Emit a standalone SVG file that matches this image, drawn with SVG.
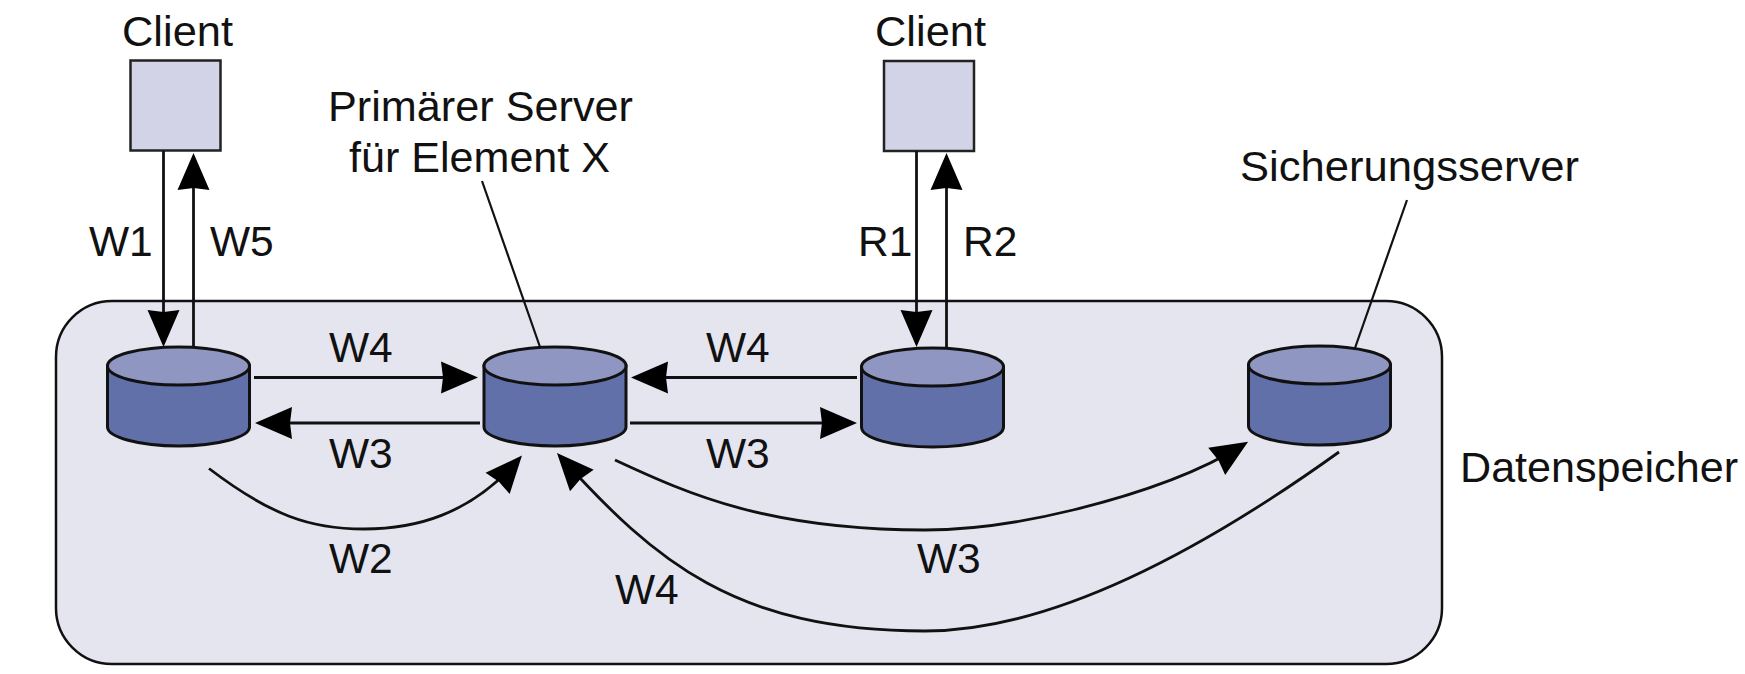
<svg xmlns="http://www.w3.org/2000/svg" width="1745" height="674" viewBox="0 0 1745 674">
<style>
text{font-family:"Liberation Sans",Arial,sans-serif;font-size:42.5px;fill:#111}
.client{fill:#d2d3e6;stroke:#222;stroke-width:2.5}
.top{fill:#8f96c2;stroke:#111;stroke-width:3}
.side{fill:#6170a9;stroke:#111;stroke-width:3}
.c{fill:none;stroke:#111;stroke-width:2.8}
.a{marker-end:url(#head)}
.thin{fill:none;stroke:#111;stroke-width:2.2}
</style>
<defs>
<marker id="head" markerUnits="userSpaceOnUse" markerWidth="42" markerHeight="36" refX="31" refY="16" orient="auto" overflow="visible">
<path d="M0,0 L37,16 L0,32 L2,16 Z" fill="#000"/>
</marker>
</defs>
<rect width="1745" height="674" fill="#fff"/>
<g id="datenspeicher">
<rect x="56" y="301" width="1386" height="363" rx="56" ry="56" fill="#e5e5f0" stroke="#111" stroke-width="2.5"/>
<text x="1460" y="482" textLength="278" lengthAdjust="spacingAndGlyphs">Datenspeicher</text>
</g>
<g id="client-left"><rect class="client" x="130.500" y="60.500" width="90" height="90"/><text x="122" y="46" textLength="111" lengthAdjust="spacingAndGlyphs">Client</text></g>
<g id="client-right"><rect class="client" x="884" y="61" width="90" height="90"/><text x="875" y="46" textLength="111" lengthAdjust="spacingAndGlyphs">Client</text></g>
<g id="store-1">
<path class="side" d="M107.500,366 V427 C107.500,437 139,446 178.500,446 C218,446 249.500,437 249.500,427 V366 Z"/>
<ellipse class="top" cx="178.500" cy="366" rx="71" ry="19"/>
</g>
<g id="store-primary">
<path class="side" d="M484,366 V427 C484,437 515,446 555,446 C595,446 626,437 626,427 V366 Z"/>
<ellipse class="top" cx="555" cy="366" rx="71" ry="19"/>
</g>
<g id="store-3">
<path class="side" d="M861.500,367 V427 C861.500,438 893,447 932.500,447 C972,447 1003.500,438 1003.500,427 V367 Z"/>
<ellipse class="top" cx="932.500" cy="367" rx="71" ry="19"/>
</g>
<g id="store-backup">
<path class="side" d="M1248.500,365 V426 C1248.500,436 1280,445 1319.500,445 C1359,445 1390.500,436 1390.500,426 V365 Z"/>
<ellipse class="top" cx="1319.500" cy="365" rx="71" ry="19"/>
</g>
<g id="labels-nodes">
<text x="328" y="121" textLength="305" lengthAdjust="spacingAndGlyphs">Primärer Server</text>
<text x="349" y="172" textLength="261" lengthAdjust="spacingAndGlyphs">für Element X</text>
<text x="1240" y="181" textLength="339" lengthAdjust="spacingAndGlyphs">Sicherungsserver</text>
</g>
<g id="connectors">
<line class="thin" x1="482" y1="181" x2="540" y2="347"/>
<line class="thin" x1="1407" y1="200" x2="1355" y2="348"/>
<line class="c a" x1="163.500" y1="151" x2="163.500" y2="341"/>
<line class="c a" x1="193.500" y1="347" x2="193.500" y2="159"/>
<line class="c a" x1="916.500" y1="151" x2="916.500" y2="341"/>
<line class="c a" x1="946.500" y1="347" x2="946.500" y2="159"/>
<line class="c a" x1="254" y1="377.500" x2="472" y2="377.500"/>
<line class="c a" x1="480" y1="423" x2="261" y2="423"/>
<line class="c a" x1="857" y1="377.500" x2="637" y2="377.500"/>
<line class="c a" x1="630" y1="423" x2="851" y2="423"/>
<path class="c a" d="M209,468.500 C270,515 310,529 364,529 C415,529 470,515 518,460"/>
<path class="c a" d="M615,460 C690,495 770,530 925,530 C975,530 1024,522 1073,510 C1130,496 1195,475 1243,445"/>
<path class="c a" d="M1339,452 C1215,541 1060,631 925,631 C735,631 655,561 561,457.500"/>
</g>
<g id="labels-connectors">
<text x="89" y="256">W1</text>
<text x="210" y="256">W5</text>
<text x="858" y="256">R1</text>
<text x="963" y="256">R2</text>
<text x="329" y="362">W4</text>
<text x="329" y="468">W3</text>
<text x="329" y="573">W2</text>
<text x="706" y="362">W4</text>
<text x="706" y="468">W3</text>
<text x="917" y="573">W3</text>
<text x="615" y="604">W4</text>
</g>
</svg>
